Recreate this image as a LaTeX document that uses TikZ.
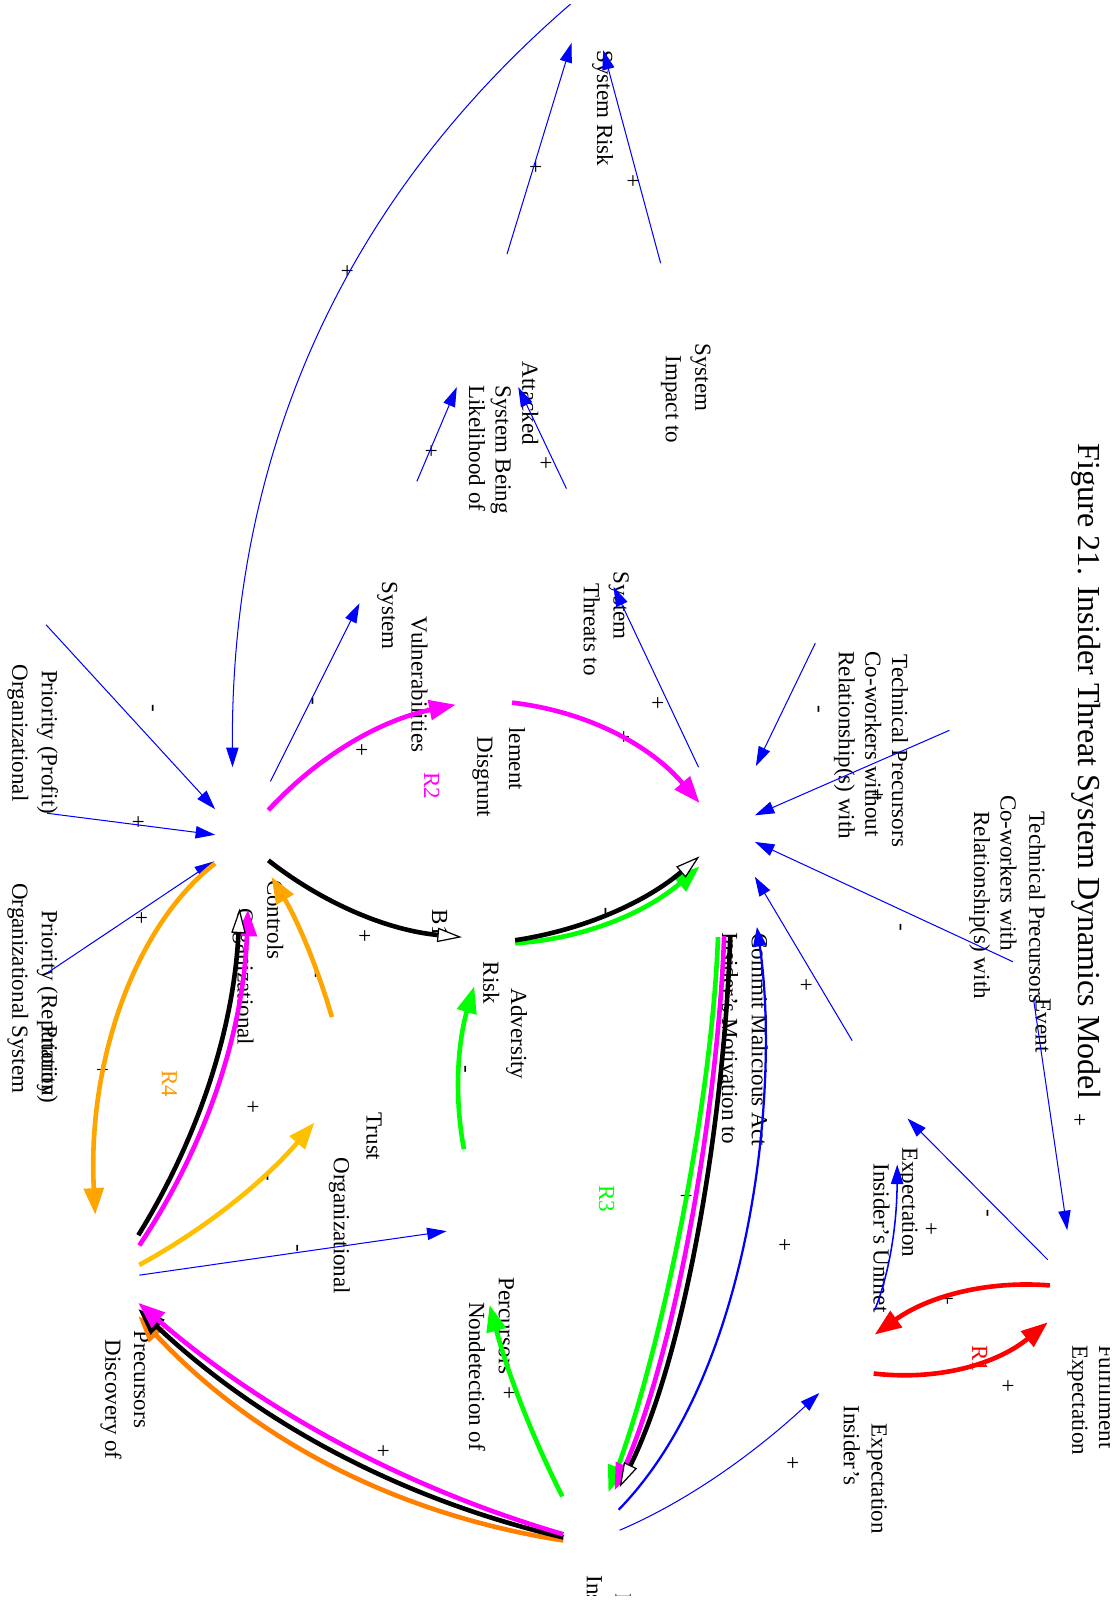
\documentclass[tikz,border=0pt]{standalone}
\usepackage{fontspec}
\setmainfont{Liberation Serif}
\usetikzlibrary{arrows.meta,calc}
\definecolor{cblue}{RGB}{0,0,255}
\definecolor{cmag}{RGB}{255,0,255}
\definecolor{cgreen}{RGB}{0,255,0}
\definecolor{corange}{RGB}{255,165,0}
\definecolor{cdorange}{RGB}{255,128,0}
\definecolor{cgold}{RGB}{255,192,0}
\definecolor{cred}{RGB}{255,0,0}
\definecolor{crfour}{RGB}{255,153,0}
\newcommand\qarc[3]{(#1) .. controls ($(#1)!0.6667!(#2)$) and ($(#3)!0.6667!(#2)$) .. (#3)}
\begin{document}
\begin{tikzpicture}[x=1pt,y=-1pt,
  lbl/.style={rotate=-90,anchor=base west,inner sep=0pt,font=\fontsize{22.5}{27}\selectfont},
  sgn/.style={rotate=-90,anchor=center,inner sep=0pt,font=\fontsize{22.5}{27}\selectfont},
  ttl/.style={rotate=-90,anchor=base west,inner sep=0pt,font=\fontsize{31.3}{37}\selectfont},
  bluelink/.style={draw=cblue,line width=1pt,-{Triangle[length=19pt,width=12pt]}},
  bluemid/.style={draw=cblue,line width=2.2pt,-{Triangle[length=19pt,width=13pt]}},
  fatlink/.style={line width=4.5pt,-{Triangle[length=26pt,width=19pt]}},
  openlink/.style={draw=black,line width=4.5pt,-{Triangle[length=24pt,width=14pt,fill=white,line width=1.2pt]}}
]
\useasboundingbox (0,0) rectangle (1092.6,1568);

% ---------- title ----------
\node[ttl] (title) at (1053,433) {Figure 21. Insider Threat System Dynamics Model};

% ---------- labels ----------
\node[lbl] (sysrisk) at (583,49) {System Risk};
\node[lbl] (impA) at (679,335) {System};
\node[lbl] (impB) at (650,347) {Impact to};
\node[lbl] (likA) at (510,353) {Attacked};
\node[lbl] (likB) at (484,376) {System Being};
\node[lbl] (likC) at (458,376) {Likelihood of};
\node[lbl] (thrA) at (599,558) {System};
\node[lbl] (thrB) at (570,569) {Threats to};
\node[lbl] (woA) at (871,639) {Technical Precursors};
\node[lbl] (woB) at (845,636) {Co-workers without};
\node[lbl] (woC) at (819,636) {Relationship(s) with};
\node[lbl] (wiA) at (1005,792) {Technical Precursors};
\node[lbl] (wiB) at (977,776) {Co-workers with};
\node[lbl] (wiC) at (951,792) {Relationship(s) with};
\node[lbl] (event) at (1011,975) {Event};
\node[lbl] (vulA) at (402,602) {Vulnerabilities};
\node[lbl] (vulB) at (373,568) {System};
\node[lbl] (disA) at (497,710) {lement};
\node[lbl] (disB) at (466,719) {Disgrunt};
\node[lbl,text=cmag] (rtwo) at (414,754) {R2};
\node[lbl] (actA) at (734,911) {Commit Malicious Act};
\node[lbl] (actB) at (705,910) {Insider's Motivation to};
\node[lbl] (advA) at (499,965) {Adversity};
\node[lbl] (advB) at (472,939) {Risk};
\node[lbl] (bone) at (422,888) {B1};
\node[lbl] (ctlA) at (261,859) {Controls};
\node[lbl] (ctlB) at (232,887) {Organizational};
\node[lbl] (proA) at (41,654) {Priority (Profit)};
\node[lbl] (proB) at (12,649) {Organizational};
\node[lbl] (repA) at (41,889) {Priority (Reputation)};
\node[lbl] (repC) at (41,1001) {Priority};
\node[lbl] (repB) at (12,862) {Organizational System};
\node[lbl] (truA) at (358,1086) {Trust};
\node[lbl] (truB) at (326,1130) {Organizational};
\node[lbl,text=crfour] (rfour) at (158,1045) {R4};
\node[lbl,text=cgreen] (rthree) at (585,1157) {R3};
\node[lbl] (unA) at (881,1120) {Expectation};
\node[lbl] (unB) at (853,1136) {Insider's Unmet};
\node[lbl] (fulB) at (1047,1313) {Expectation};
\node[lbl,text=cred] (rone) at (949,1313) {R1};
\node[lbl] (expA) at (851,1390) {Expectation};
\node[lbl] (expB) at (824,1372) {Insider's};
\node[lbl] (ndA) at (487,1247) {Percursors};
\node[lbl] (ndB) at (458,1271) {Nondetection of};
\node[lbl] (dsA) at (131,1299) {Precursors};
\node[lbl] (dsB) at (103,1308) {Discovery of};
\begin{scope}
\clip (0,0) rectangle (1083,1558);
\node[lbl] (fulA) at (1073,1313) {Fulfillment};
\node[lbl] (insA) at (601,1556) {Insider};
\node[lbl] (insB) at (573,1538) {Insider's};
\end{scope}

% ---------- signs ----------
\node[sgn] (s1) at (617,177) {+};
\node[sgn] (s2) at (522,163) {+};
\node[sgn] (s3) at (338,265) {+};
\node[sgn] (s4) at (532,452) {+};
\node[sgn] (s5) at (420,440) {+};
\node[sgn] (s6) at (641,686) {+};
\node[sgn] (s7) at (608,720) {+};
\node[sgn] (s8) at (797,693) {-};
\node[sgn] (s9) at (856,776) {+};
\node[sgn] (s10) at (877,905) {-};
\node[sgn] (s11) at (786,962) {+};
\node[sgn] (s12) at (147,692) {-};
\node[sgn] (s13) at (134,803) {+};
\node[sgn] (s14) at (137,896) {+};
\node[sgn] (s15) at (303,685) {-};
\node[sgn] (s16) at (352,732) {+};
\node[sgn] (s17) at (355,914) {+};
\node[sgn] (s18) at (306,951) {-};
\node[sgn] (s19) at (452,1044) {-};
\node[sgn] (s20) at (246,1081) {+};
\node[sgn] (s21) at (259,1149) {-};
\node[sgn] (s22) at (288,1219) {-};
\node[sgn] (s23) at (99,1045) {+};
\node[sgn] (s24) at (669,1168) {+};
\node[sgn] (s25) at (765,1216) {+};
\node[sgn] (s26) at (773,1428) {+};
\node[sgn] (s27) at (496,1360) {+};
\node[sgn] (s28) at (373,1417) {+};
\node[sgn] (s29) at (1053,1093) {+};
\node[sgn] (s30) at (962,1185) {-};
\node[sgn] (s31) at (908,1200) {+};
\node[sgn] (s32) at (924,1268) {+};
\node[sgn] (s33) at (983,1353) {+};
\node[sgn] (s34) at (667,862) {-};
\node[sgn] (s35) at (589,890) {-};

% ---------- connector end points ----------
\coordinate (p1) at (645,257);  \coordinate (q1) at (589,49);
\coordinate (p2) at (495,248);  \coordinate (q2) at (558,42);
\coordinate (p3) at (557,4);    \coordinate (q3) at (227,749);
\coordinate (p4) at (553,477);  \coordinate (q4) at (506,378);
\coordinate (p5) at (407,470);  \coordinate (q5) at (446,378);
\coordinate (p6) at (682,749);  \coordinate (q6) at (599,573);
\coordinate (p7) at (796,628);  \coordinate (q7) at (738,748);
\coordinate (p8) at (927,713);  \coordinate (q8) at (737,796);
\coordinate (p9) at (989,939);  \coordinate (q9) at (737,822);
\coordinate (p10) at (832,1016); \coordinate (q10) at (737,856);
\coordinate (p11) at (604,1474); \coordinate (q11) at (739,905);
\coordinate (p12) at (1009,975); \coordinate (q12) at (1042,1201);
\coordinate (p13) at (1023,1230); \coordinate (q13) at (886,1092);
\coordinate (p14) at (854,1279); \coordinate (q14) at (876,1137);
\coordinate (c14) at (875.5,1226);
\coordinate (p15) at (605,1494); \coordinate (q15) at (800,1360);
\coordinate (c15) at (698.75,1454);
\coordinate (p16) at (45,610);   \coordinate (q16) at (210,790);
\coordinate (p17) at (46,794);   \coordinate (q17) at (210,815);
\coordinate (p18) at (46,950);   \coordinate (q18) at (209,841);
\coordinate (p19) at (264,763);  \coordinate (q19) at (351,589);
\coordinate (p20) at (136,1245); \coordinate (q20) at (436,1202);

\coordinate (m1s) at (262,791);  \coordinate (m1e) at (445,688);  \coordinate (m1c) at (336.25,710.25);
\coordinate (m2s) at (500,686);  \coordinate (m2e) at (683,784);  \coordinate (m2c) at (610.25,699);
\coordinate (m3s) at (707,914);  \coordinate (m3e) at (600,1455);
\coordinate (m4s) at (550,1498); \coordinate (m4e) at (135,1272); \coordinate (m4c) at (317.75,1430);
\coordinate (m5s) at (136,1216); \coordinate (m5e) at (242,888);  \coordinate (m5c) at (235.5,1067);
\coordinate (k1s) at (262,840);  \coordinate (k1e) at (451,915);  \coordinate (k1c) at (345.25,905.25);
\coordinate (k2s) at (503,918);  \coordinate (k2e) at (683,836);  \coordinate (k2c) at (605,902.5);
\coordinate (k3s) at (713,913);  \coordinate (k3e) at (605,1452);
\coordinate (k4s) at (550,1501); \coordinate (k4e) at (135,1278); \coordinate (k4c) at (313.25,1445.75);
\coordinate (k5s) at (135,1206); \coordinate (k5e) at (234,887);  \coordinate (k5c) at (225.75,1059.25);
\coordinate (g1s) at (503,921);  \coordinate (g1e) at (683,846);  \coordinate (g1c) at (603.5,914.25);
\coordinate (g2s) at (701,915);  \coordinate (g2e) at (594,1457);
\coordinate (g3s) at (549,1461); \coordinate (g3e) at (478,1274); \coordinate (g3c) at (503.75,1371.25);
\coordinate (g4s) at (453,1122); \coordinate (g4e) at (463,963);  \coordinate (g4c) at (438.5,1046.25);
\coordinate (o1s) at (210,843);  \coordinate (o1e) at (93,1186);
\coordinate (o2s) at (324,993);  \coordinate (o2e) at (265,856);  \coordinate (o2c) at (302.75,919.25);
\coordinate (o3s) at (550,1504); \coordinate (o3e) at (135,1285); \coordinate (o3c) at (304.25,1465.75);
\coordinate (y1s) at (136,1235); \coordinate (y1e) at (307,1096); \coordinate (y1c) at (234.25,1181.25);
\coordinate (r1s) at (1025,1255); \coordinate (r1e) at (854,1303); \coordinate (r1c) at (931.25,1247.5);
\coordinate (r2s) at (853,1341); \coordinate (r2e) at (1023,1291); \coordinate (r2c) at (948.5,1352);

% ---------- blue links ----------
\draw[bluelink] (p1) -- (q1);
\draw[bluelink] (p2) -- (q2);
\draw[bluelink] (p3) .. controls (330,200) and (225,450) .. (q3);
\draw[bluelink] (p4) -- (q4);
\draw[bluelink] (p5) -- (q5);
\draw[bluelink] (p6) -- (q6);
\draw[bluelink] (p7) -- (q7);
\draw[bluelink] (p8) -- (q8);
\draw[bluelink] (p9) -- (q9);
\draw[bluelink] (p10) -- (q10);
\draw[bluemid] (p11) .. controls (735,1340) and (762,1060) .. (q11);
\draw[bluelink] (p12) -- (q12);
\draw[bluelink] (p13) -- (q13);
\draw[bluelink,line width=1.5pt] \qarc{p14}{c14}{q14};
\draw[bluelink] \qarc{p15}{c15}{q15};
\draw[bluelink] (p16) -- (q16);
\draw[bluelink] (p17) -- (q17);
\draw[bluelink] (p18) -- (q18);
\draw[bluelink] (p19) -- (q19);
\draw[bluelink] (p20) -- (q20);

% ---------- thick loops ----------
\draw[fatlink,draw=cdorange] \qarc{o3s}{o3c}{o3e};
\draw[fatlink,draw=black] \qarc{k4s}{k4c}{k4e};
\draw[fatlink,draw=cmag] \qarc{m4s}{m4c}{m4e};

\draw[fatlink,draw=cgreen] (g2s) .. controls (695,1080) and (645,1320) .. (g2e);
\draw[fatlink,draw=cmag] (m3s) .. controls (701,1080) and (660,1318) .. (m3e);
\draw[openlink] (k3s) .. controls (708,1080) and (672,1316) .. (k3e);

\draw[fatlink,draw=cmag] \qarc{m1s}{m1c}{m1e};
\draw[fatlink,draw=cmag] \qarc{m2s}{m2c}{m2e};
\draw[openlink] \qarc{k1s}{k1c}{k1e};
\draw[fatlink,draw=cgreen] \qarc{g1s}{g1c}{g1e};
\draw[openlink] \qarc{k2s}{k2c}{k2e};

\draw[fatlink,draw=cmag] \qarc{m5s}{m5c}{m5e};
\draw[openlink] \qarc{k5s}{k5c}{k5e};

\draw[fatlink,draw=cgreen] \qarc{g3s}{g3c}{g3e};
\draw[fatlink,draw=cgreen] \qarc{g4s}{g4c}{g4e};
\draw[fatlink,draw=corange] (o1s) .. controls (130,905) and (85,1040) .. (o1e);
\draw[fatlink,draw=corange] \qarc{o2s}{o2c}{o2e};
\draw[fatlink,draw=cgold] \qarc{y1s}{y1c}{y1e};
\draw[fatlink,draw=cred] \qarc{r1s}{r1c}{r1e};
\draw[fatlink,draw=cred] \qarc{r2s}{r2c}{r2e};
\end{tikzpicture}
\end{document}
